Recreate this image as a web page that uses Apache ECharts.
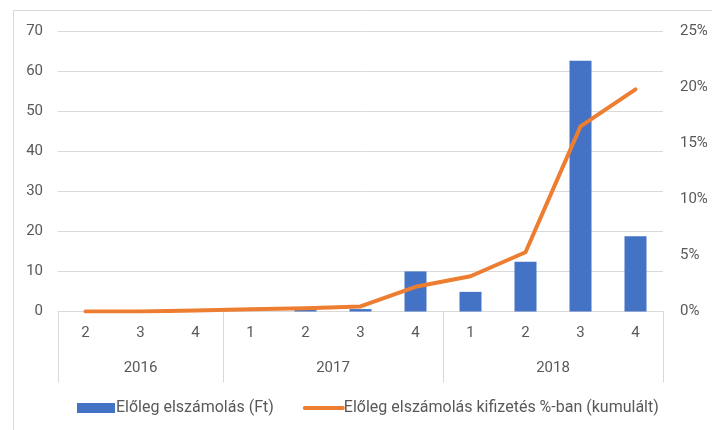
<!DOCTYPE html>
<html>
<head>
<meta charset="utf-8">
<script src="https://cdn.jsdelivr.net/npm/echarts@6/dist/echarts.min.js"></script>
<style>
html,body{margin:0;padding:0;background:#fff;}
#c{width:712px;height:430px;}
</style>
</head>
<body>
<div id="c"></div>
<script>
// ---- data ----
const quarters = ['2','3','4','1','2','3','4','1','2','3','4'];
const years = ['2016','2017','2018'];
const yearCounts = [3, 4, 4];
const barValues = [0, 0, 0, 0, 0.4, 0.6, 10, 4.9, 12.4, 62.6, 18.8];
const lineValues = [0, 0, 0.001, 0.002, 0.003, 0.0045, 0.022, 0.0314, 0.0528, 0.165, 0.198];
const barName = 'Előleg elszámolás (Ft)';
const lineName = 'Előleg elszámolás kifizetés %-ban (kumulált)';
const leftTicks = {min: 0, max: 70, interval: 10};
const rightTicks = {min: 0, max: 0.25, interval: 0.05};

// group boundaries and centers (in category units)
const boundaries = [0];
yearCounts.forEach(n => boundaries.push(boundaries[boundaries.length - 1] + n));
const yearCenters = {};
years.forEach((y, i) => { yearCenters[((boundaries[i] + boundaries[i + 1]) / 2).toFixed(2)] = y; });

const FONT = 'Roboto';
const TXT = '#595959';
const GRID = '#D9D9D9';

const chart = echarts.init(document.getElementById('c'));
chart.setOption({
  animation: false,
  backgroundColor: '#fff',
  textStyle: {fontFamily: FONT},
  graphic: [{
    type: 'rect', left: 11, top: 8, shape: {width: 760, height: 460},
    style: {fill: 'none', stroke: GRID, lineWidth: 1}, silent: true
  }],
  grid: {left: 58, right: 49, top: 31, bottom: 118.5, containLabel: false},
  legend: {
    bottom: 9, left: 72,
    itemWidth: 38, itemHeight: 10, itemGap: 29,
    textStyle: {fontFamily: FONT, fontSize: 16, color: TXT, padding: [0, 0, 0, -4]},
    data: [
      {name: barName, icon: 'rect'},
      {name: lineName, itemStyle: {opacity: 0}, lineStyle: {width: 4, cap: 'round', color: '#ED7D31'}}
    ]
  },
  xAxis: [{
    type: 'category', data: quarters, boundaryGap: true,
    axisLine: {lineStyle: {color: GRID, width: 1}},
    axisTick: {show: true, length: 71, lineStyle: {color: GRID},
      interval: function (idx) { return boundaries.indexOf(idx) >= 0 && idx < quarters.length; }},
    axisLabel: {color: TXT, fontSize: 15, fontFamily: FONT, margin: 14, interval: 0}
  }, {
    type: 'value', position: 'bottom', min: 0, max: quarters.length, interval: 0.5,
    axisLine: {show: false}, axisTick: {show: false}, splitLine: {show: false},
    axisLabel: {color: TXT, fontSize: 15, fontFamily: FONT, margin: 49, hideOverlap: false,
      showMinLabel: true, showMaxLabel: true,
      formatter: function (v) { return yearCenters[v.toFixed(2)] || ''; }}
  }],
  yAxis: [{
    type: 'value', min: leftTicks.min, max: leftTicks.max, interval: leftTicks.interval,
    axisLine: {show: false}, axisTick: {show: false},
    splitLine: {lineStyle: {color: GRID, width: 1}},
    axisLabel: {color: TXT, fontSize: 15, fontFamily: FONT, margin: 15}
  }, {
    type: 'value', min: rightTicks.min, max: rightTicks.max, interval: rightTicks.interval,
    axisLine: {show: false}, axisTick: {show: false}, splitLine: {show: false},
    axisLabel: {color: TXT, fontSize: 15, fontFamily: FONT, margin: 17,
      formatter: function (v) { return Math.round(v * 100) + '%'; }}
  }],
  series: [{
    name: barName, type: 'bar', data: barValues, xAxisIndex: 0, yAxisIndex: 0,
    barWidth: '40%', itemStyle: {color: '#4472C4'}
  }, {
    name: lineName, type: 'line', data: lineValues, xAxisIndex: 0, yAxisIndex: 1,
    symbol: 'none', smooth: false,
    lineStyle: {color: '#ED7D31', width: 4, cap: 'round', join: 'round'},
    itemStyle: {color: '#ED7D31'}
  }]
});
</script>
</body>
</html>
